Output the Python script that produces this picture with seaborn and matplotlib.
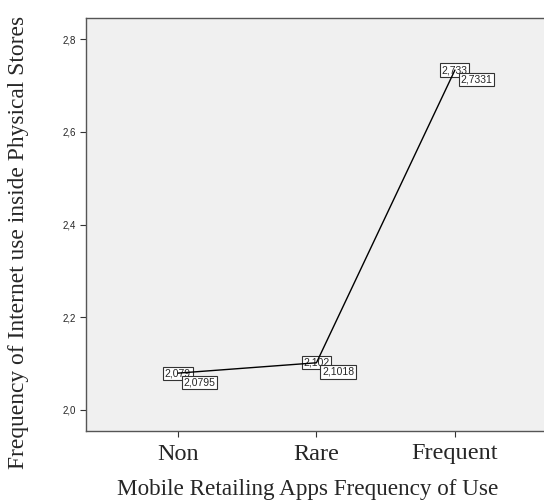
import matplotlib
matplotlib.use("Agg")
import matplotlib.pyplot as plt
import seaborn as sns
import pandas as pd

categories = ["Non", "Rare", "Frequent"]
means = [2.0795, 2.1018, 2.7331]
y_ticks = [2.0, 2.2, 2.4, 2.6, 2.8]

df = pd.DataFrame({"use": categories, "mean": means})

sns.set_style("white")
plt.rcParams["font.family"] = ["Liberation Sans", "DejaVu Sans"]

fig = plt.figure(figsize=(5.44, 5.04), dpi=100)
ax = fig.add_axes([86 / 544, 73 / 504, 462 / 544, 413 / 504])
ax.set_facecolor("#f0f0f0")

sns.lineplot(data=df, x="use", y="mean", sort=False, color="black",
             linewidth=1.0, ax=ax, zorder=3)

def fmt(v, d):
    return f"{v:.{d}f}".replace(".", ",")

box = dict(boxstyle="square,pad=0.15", fc="white", ec="#333333", lw=0.8)
for i, v in enumerate(means):
    ax.text(i, v, fmt(v, 3), ha="center", va="center", fontsize=7.5,
            bbox=box, zorder=2)
    ax.annotate(fmt(v, 4), (i, v), xytext=(4, -3), textcoords="offset points",
                ha="left", va="top", fontsize=7.5, bbox=box, zorder=4)

ax.set_xlim(-0.664, 2.672)
ax.set_ylim(1.9547, 2.8453)
ax.set_yticks(y_ticks)
ax.set_yticklabels([fmt(t, 1) for t in y_ticks], fontsize=7)
ax.set_xticks(range(len(categories)))
ax.set_xticklabels(categories, fontsize=17.5, family="Liberation Serif")
ax.tick_params(axis="both", direction="out", length=4, width=0.8,
               color="#333333", bottom=True, left=True)
ax.tick_params(axis="x", pad=5)
for s in ax.spines.values():
    s.set_color("#555555")
    s.set_linewidth(1.0)
ax.spines["right"].set_visible(False)

ax.set_xlabel("Mobile Retailing Apps Frequency of Use", fontsize=16.7,
              family="Liberation Serif", va="center")
ax.xaxis.set_label_coords(308 / 544, 1 - 490 / 504, transform=fig.transFigure)
ax.set_ylabel("Frequency of Internet use inside Physical Stores", fontsize=16.9,
              family="Liberation Serif", va="center")
ax.yaxis.set_label_coords(19 / 544, 1 - 242 / 504, transform=fig.transFigure)

fig.savefig("out.png", dpi=100)
